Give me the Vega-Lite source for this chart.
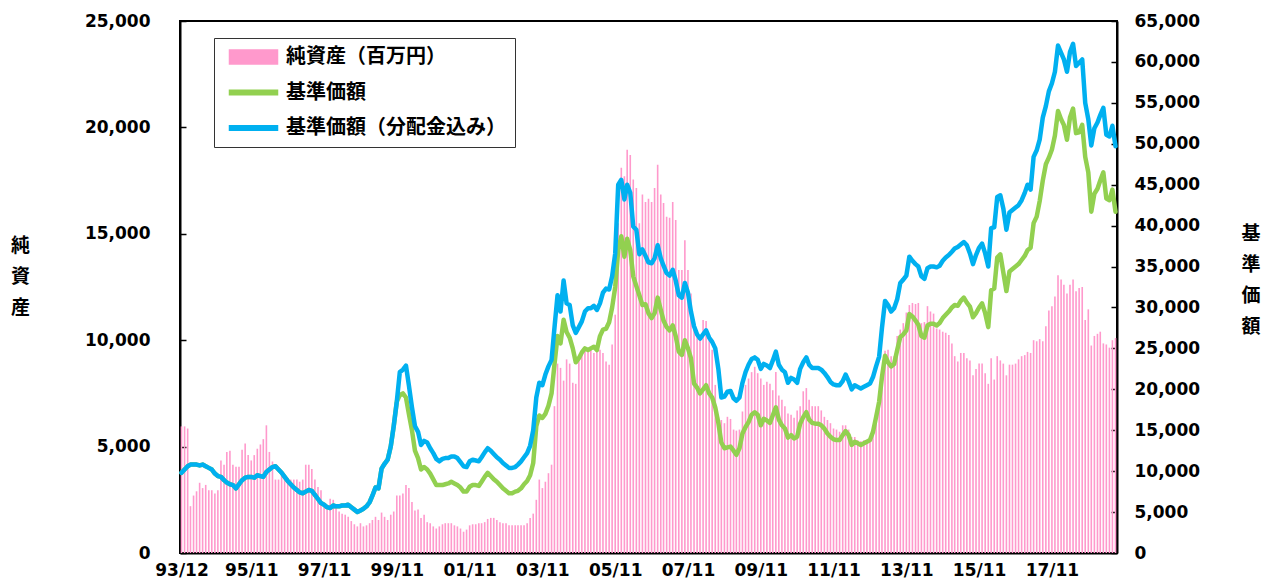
{
"$schema":"https://vega.github.io/schema/vega-lite/v6.json",
"width":937,"height":532,
"autosize":{"type":"none"},
"padding":{"left":180,"top":21,"right":154,"bottom":31},
"background":"white",
"config":{"view":{"stroke":"#000","strokeWidth":2}},
"data":{"values":[
{"date":"1993-12-01","nav":5950,"price":9800,"adj":9800},
{"date":"1994-01-01","nav":5950,"price":10200,"adj":10200},
{"date":"1994-02-01","nav":5850,"price":10600,"adj":10600},
{"date":"1994-03-01","nav":2200,"price":10800,"adj":10800},
{"date":"1994-04-01","nav":2700,"price":10800,"adj":10800},
{"date":"1994-05-01","nav":2900,"price":10800,"adj":10800},
{"date":"1994-06-01","nav":3300,"price":10700,"adj":10700},
{"date":"1994-07-01","nav":3050,"price":10800,"adj":10800},
{"date":"1994-08-01","nav":3200,"price":10600,"adj":10600},
{"date":"1994-09-01","nav":2950,"price":10400,"adj":10400},
{"date":"1994-10-01","nav":2950,"price":10200,"adj":10200},
{"date":"1994-11-01","nav":2800,"price":9700,"adj":9700},
{"date":"1994-12-01","nav":2950,"price":9400,"adj":9400},
{"date":"1995-01-01","nav":4350,"price":9300,"adj":9300},
{"date":"1995-02-01","nav":4150,"price":8900,"adj":8900},
{"date":"1995-03-01","nav":4750,"price":8600,"adj":8600},
{"date":"1995-04-01","nav":4800,"price":8400,"adj":8400},
{"date":"1995-05-01","nav":4150,"price":8300,"adj":8300},
{"date":"1995-06-01","nav":4050,"price":7900,"adj":7900},
{"date":"1995-07-01","nav":4050,"price":8400,"adj":8400},
{"date":"1995-08-01","nav":4850,"price":8900,"adj":8900},
{"date":"1995-09-01","nav":5150,"price":9200,"adj":9200},
{"date":"1995-10-01","nav":4600,"price":9300,"adj":9300},
{"date":"1995-11-01","nav":4350,"price":9300,"adj":9300},
{"date":"1995-12-01","nav":4600,"price":9200,"adj":9200},
{"date":"1996-01-01","nav":4900,"price":9500,"adj":9500},
{"date":"1996-02-01","nav":5100,"price":9400,"adj":9400},
{"date":"1996-03-01","nav":5350,"price":9300,"adj":9300},
{"date":"1996-04-01","nav":6000,"price":9900,"adj":9900},
{"date":"1996-05-01","nav":4750,"price":10200,"adj":10200},
{"date":"1996-06-01","nav":4300,"price":10500,"adj":10500},
{"date":"1996-07-01","nav":3450,"price":10600,"adj":10600},
{"date":"1996-08-01","nav":3450,"price":10200,"adj":10200},
{"date":"1996-09-01","nav":3750,"price":9800,"adj":9800},
{"date":"1996-10-01","nav":3500,"price":9300,"adj":9300},
{"date":"1996-11-01","nav":3500,"price":8800,"adj":8800},
{"date":"1996-12-01","nav":3450,"price":8400,"adj":8400},
{"date":"1997-01-01","nav":3450,"price":8000,"adj":8000},
{"date":"1997-02-01","nav":3450,"price":7700,"adj":7700},
{"date":"1997-03-01","nav":3350,"price":7400,"adj":7400},
{"date":"1997-04-01","nav":3450,"price":7300,"adj":7300},
{"date":"1997-05-01","nav":4150,"price":7500,"adj":7500},
{"date":"1997-06-01","nav":4150,"price":7700,"adj":7700},
{"date":"1997-07-01","nav":3950,"price":7600,"adj":7600},
{"date":"1997-08-01","nav":3450,"price":7100,"adj":7100},
{"date":"1997-09-01","nav":3100,"price":6600,"adj":6600},
{"date":"1997-10-01","nav":2950,"price":6100,"adj":6100},
{"date":"1997-11-01","nav":2350,"price":5900,"adj":5900},
{"date":"1997-12-01","nav":2100,"price":5600,"adj":5600},
{"date":"1998-01-01","nav":2550,"price":5500,"adj":5500},
{"date":"1998-02-01","nav":2500,"price":5800,"adj":5800},
{"date":"1998-03-01","nav":2200,"price":5700,"adj":5700},
{"date":"1998-04-01","nav":1950,"price":5700,"adj":5700},
{"date":"1998-05-01","nav":1850,"price":5800,"adj":5800},
{"date":"1998-06-01","nav":1800,"price":5800,"adj":5800},
{"date":"1998-07-01","nav":1700,"price":5900,"adj":5900},
{"date":"1998-08-01","nav":1500,"price":5600,"adj":5600},
{"date":"1998-09-01","nav":1350,"price":5300,"adj":5300},
{"date":"1998-10-01","nav":1250,"price":5000,"adj":5000},
{"date":"1998-11-01","nav":1400,"price":5200,"adj":5200},
{"date":"1998-12-01","nav":1250,"price":5400,"adj":5400},
{"date":"1999-01-01","nav":1300,"price":5700,"adj":5700},
{"date":"1999-02-01","nav":1400,"price":6200,"adj":6200},
{"date":"1999-03-01","nav":1550,"price":7000,"adj":7000},
{"date":"1999-04-01","nav":1700,"price":8000,"adj":8000},
{"date":"1999-05-01","nav":1550,"price":7900,"adj":7900},
{"date":"1999-06-01","nav":1900,"price":10300,"adj":10300},
{"date":"1999-07-01","nav":1700,"price":10900,"adj":10900},
{"date":"1999-08-01","nav":1550,"price":11400,"adj":11400},
{"date":"1999-09-01","nav":1800,"price":13000,"adj":13000},
{"date":"1999-10-01","nav":1950,"price":15500,"adj":15500},
{"date":"1999-11-01","nav":2700,"price":18500,"adj":18500},
{"date":"1999-12-01","nav":2700,"price":19300,"adj":22100},
{"date":"2000-01-01","nav":2800,"price":19500,"adj":22400},
{"date":"2000-02-01","nav":3200,"price":19000,"adj":22900},
{"date":"2000-03-01","nav":3050,"price":17000,"adj":20500},
{"date":"2000-04-01","nav":2400,"price":15000,"adj":17800},
{"date":"2000-05-01","nav":2000,"price":12500,"adj":15500},
{"date":"2000-06-01","nav":2050,"price":11600,"adj":14800},
{"date":"2000-07-01","nav":1650,"price":10200,"adj":13200},
{"date":"2000-08-01","nav":1800,"price":10500,"adj":13700},
{"date":"2000-09-01","nav":1450,"price":10200,"adj":13500},
{"date":"2000-10-01","nav":1400,"price":9700,"adj":12800},
{"date":"2000-11-01","nav":1250,"price":9000,"adj":12200},
{"date":"2000-12-01","nav":1150,"price":8300,"adj":11500},
{"date":"2001-01-01","nav":1250,"price":8300,"adj":11200},
{"date":"2001-02-01","nav":1350,"price":8300,"adj":11500},
{"date":"2001-03-01","nav":1400,"price":8400,"adj":11600},
{"date":"2001-04-01","nav":1400,"price":8500,"adj":11600},
{"date":"2001-05-01","nav":1400,"price":8700,"adj":11800},
{"date":"2001-06-01","nav":1300,"price":8500,"adj":11800},
{"date":"2001-07-01","nav":1250,"price":8300,"adj":11600},
{"date":"2001-08-01","nav":1150,"price":8000,"adj":11100},
{"date":"2001-09-01","nav":1000,"price":7500,"adj":10600},
{"date":"2001-10-01","nav":1100,"price":7500,"adj":10500},
{"date":"2001-11-01","nav":1300,"price":8100,"adj":11200},
{"date":"2001-12-01","nav":1350,"price":8300,"adj":11400},
{"date":"2002-01-01","nav":1350,"price":8300,"adj":11300},
{"date":"2002-02-01","nav":1400,"price":8200,"adj":11200},
{"date":"2002-03-01","nav":1400,"price":8700,"adj":11700},
{"date":"2002-04-01","nav":1450,"price":9300,"adj":12300},
{"date":"2002-05-01","nav":1600,"price":9800,"adj":12800},
{"date":"2002-06-01","nav":1650,"price":9400,"adj":12500},
{"date":"2002-07-01","nav":1650,"price":9000,"adj":12100},
{"date":"2002-08-01","nav":1550,"price":8700,"adj":11700},
{"date":"2002-09-01","nav":1450,"price":8300,"adj":11400},
{"date":"2002-10-01","nav":1400,"price":7900,"adj":11000},
{"date":"2002-11-01","nav":1400,"price":7600,"adj":10700},
{"date":"2002-12-01","nav":1300,"price":7300,"adj":10400},
{"date":"2003-01-01","nav":1300,"price":7300,"adj":10400},
{"date":"2003-02-01","nav":1300,"price":7500,"adj":10500},
{"date":"2003-03-01","nav":1300,"price":7600,"adj":10800},
{"date":"2003-04-01","nav":1300,"price":7900,"adj":11200},
{"date":"2003-05-01","nav":1300,"price":8400,"adj":11700},
{"date":"2003-06-01","nav":1400,"price":8800,"adj":12200},
{"date":"2003-07-01","nav":1650,"price":9500,"adj":13100},
{"date":"2003-08-01","nav":1850,"price":11000,"adj":15000},
{"date":"2003-09-01","nav":2500,"price":15500,"adj":19000},
{"date":"2003-10-01","nav":3450,"price":16800,"adj":20800},
{"date":"2003-11-01","nav":3050,"price":16500,"adj":20500},
{"date":"2003-12-01","nav":3350,"price":17000,"adj":21800},
{"date":"2004-01-01","nav":3750,"price":18000,"adj":22800},
{"date":"2004-02-01","nav":4150,"price":19500,"adj":23600},
{"date":"2004-03-01","nav":6900,"price":23000,"adj":27500},
{"date":"2004-04-01","nav":8900,"price":26500,"adj":31500},
{"date":"2004-05-01","nav":8700,"price":25600,"adj":29500},
{"date":"2004-06-01","nav":8100,"price":28500,"adj":33300},
{"date":"2004-07-01","nav":9100,"price":27000,"adj":30500},
{"date":"2004-08-01","nav":8900,"price":26300,"adj":30300},
{"date":"2004-09-01","nav":8000,"price":25000,"adj":27800},
{"date":"2004-10-01","nav":7950,"price":23300,"adj":26900},
{"date":"2004-11-01","nav":9200,"price":23800,"adj":27600},
{"date":"2004-12-01","nav":9400,"price":24500,"adj":28300},
{"date":"2005-01-01","nav":9500,"price":25000,"adj":29500},
{"date":"2005-02-01","nav":9600,"price":24800,"adj":29900},
{"date":"2005-03-01","nav":9600,"price":25000,"adj":29900},
{"date":"2005-04-01","nav":9400,"price":25200,"adj":30200},
{"date":"2005-05-01","nav":9500,"price":24800,"adj":29700},
{"date":"2005-06-01","nav":9550,"price":26500,"adj":30500},
{"date":"2005-07-01","nav":9400,"price":27300,"adj":31800},
{"date":"2005-08-01","nav":9000,"price":27400,"adj":32300},
{"date":"2005-09-01","nav":8850,"price":28200,"adj":32200},
{"date":"2005-10-01","nav":9800,"price":30000,"adj":33800},
{"date":"2005-11-01","nav":11200,"price":32500,"adj":36600},
{"date":"2005-12-01","nav":15500,"price":37000,"adj":45000},
{"date":"2006-01-01","nav":18100,"price":38700,"adj":45600},
{"date":"2006-02-01","nav":17700,"price":36200,"adj":43200},
{"date":"2006-03-01","nav":18950,"price":38400,"adj":45000},
{"date":"2006-04-01","nav":18700,"price":37000,"adj":44000},
{"date":"2006-05-01","nav":17550,"price":33800,"adj":39900},
{"date":"2006-06-01","nav":17150,"price":32600,"adj":39500},
{"date":"2006-07-01","nav":15500,"price":31500,"adj":36500},
{"date":"2006-08-01","nav":16850,"price":30300,"adj":37100},
{"date":"2006-09-01","nav":16500,"price":30400,"adj":36300},
{"date":"2006-10-01","nav":16650,"price":29300,"adj":35500},
{"date":"2006-11-01","nav":16500,"price":28700,"adj":35400},
{"date":"2006-12-01","nav":17150,"price":29300,"adj":36000},
{"date":"2007-01-01","nav":18250,"price":31200,"adj":37600},
{"date":"2007-02-01","nav":16850,"price":29700,"adj":36000},
{"date":"2007-03-01","nav":16450,"price":28400,"adj":35100},
{"date":"2007-04-01","nav":15800,"price":27600,"adj":34200},
{"date":"2007-05-01","nav":15750,"price":27200,"adj":33900},
{"date":"2007-06-01","nav":16500,"price":27800,"adj":34600},
{"date":"2007-07-01","nav":15650,"price":26500,"adj":33300},
{"date":"2007-08-01","nav":13300,"price":24600,"adj":31500},
{"date":"2007-09-01","nav":13300,"price":24200,"adj":31200},
{"date":"2007-10-01","nav":14700,"price":26000,"adj":33000},
{"date":"2007-11-01","nav":13300,"price":25000,"adj":31800},
{"date":"2007-12-01","nav":12200,"price":23800,"adj":29500},
{"date":"2008-01-01","nav":10500,"price":20700,"adj":27700},
{"date":"2008-02-01","nav":10300,"price":20200,"adj":26700},
{"date":"2008-03-01","nav":10250,"price":19500,"adj":26200},
{"date":"2008-04-01","nav":10950,"price":20000,"adj":26700},
{"date":"2008-05-01","nav":10900,"price":20500,"adj":27200},
{"date":"2008-06-01","nav":10150,"price":19500,"adj":26300},
{"date":"2008-07-01","nav":9550,"price":19000,"adj":25800},
{"date":"2008-08-01","nav":7900,"price":17800,"adj":25000},
{"date":"2008-09-01","nav":6400,"price":15900,"adj":22500},
{"date":"2008-10-01","nav":6250,"price":13500,"adj":19000},
{"date":"2008-11-01","nav":6100,"price":12800,"adj":19100},
{"date":"2008-12-01","nav":6400,"price":12900,"adj":19700},
{"date":"2009-01-01","nav":6300,"price":13000,"adj":19800},
{"date":"2009-02-01","nav":5800,"price":12500,"adj":18900},
{"date":"2009-03-01","nav":5750,"price":12000,"adj":18600},
{"date":"2009-04-01","nav":5800,"price":12800,"adj":19000},
{"date":"2009-05-01","nav":6650,"price":14600,"adj":20800},
{"date":"2009-06-01","nav":7900,"price":15400,"adj":22100},
{"date":"2009-07-01","nav":8200,"price":16000,"adj":23000},
{"date":"2009-08-01","nav":8500,"price":16900,"adj":23700},
{"date":"2009-09-01","nav":8750,"price":17200,"adj":23900},
{"date":"2009-10-01","nav":8450,"price":16900,"adj":23600},
{"date":"2009-11-01","nav":8200,"price":15600,"adj":22500},
{"date":"2009-12-01","nav":7900,"price":16400,"adj":23100},
{"date":"2010-01-01","nav":8050,"price":16200,"adj":22900},
{"date":"2010-02-01","nav":7950,"price":15900,"adj":22600},
{"date":"2010-03-01","nav":7650,"price":16800,"adj":23500},
{"date":"2010-04-01","nav":8500,"price":17800,"adj":24600},
{"date":"2010-05-01","nav":7400,"price":16300,"adj":23000},
{"date":"2010-06-01","nav":7200,"price":15600,"adj":22400},
{"date":"2010-07-01","nav":6900,"price":15200,"adj":22100},
{"date":"2010-08-01","nav":6550,"price":14100,"adj":20800},
{"date":"2010-09-01","nav":6500,"price":14400,"adj":21400},
{"date":"2010-10-01","nav":6350,"price":14000,"adj":21200},
{"date":"2010-11-01","nav":6700,"price":14200,"adj":20800},
{"date":"2010-12-01","nav":6900,"price":15800,"adj":22500},
{"date":"2011-01-01","nav":7600,"price":16600,"adj":23300},
{"date":"2011-02-01","nav":7750,"price":17200,"adj":23900},
{"date":"2011-03-01","nav":7200,"price":16300,"adj":23000},
{"date":"2011-04-01","nav":6900,"price":15900,"adj":22600},
{"date":"2011-05-01","nav":6900,"price":15800,"adj":22600},
{"date":"2011-06-01","nav":6900,"price":15800,"adj":22600},
{"date":"2011-07-01","nav":6700,"price":15600,"adj":22400},
{"date":"2011-08-01","nav":6400,"price":15200,"adj":22000},
{"date":"2011-09-01","nav":6250,"price":14600,"adj":21500},
{"date":"2011-10-01","nav":6100,"price":14200,"adj":20900},
{"date":"2011-11-01","nav":5850,"price":13900,"adj":20600},
{"date":"2011-12-01","nav":5800,"price":13800,"adj":20500},
{"date":"2012-01-01","nav":5700,"price":13800,"adj":20500},
{"date":"2012-02-01","nav":6000,"price":14400,"adj":21000},
{"date":"2012-03-01","nav":6000,"price":14900,"adj":21800},
{"date":"2012-04-01","nav":5800,"price":14400,"adj":21000},
{"date":"2012-05-01","nav":5450,"price":13200,"adj":20000},
{"date":"2012-06-01","nav":5450,"price":13600,"adj":20500},
{"date":"2012-07-01","nav":5300,"price":13400,"adj":20300},
{"date":"2012-08-01","nav":5250,"price":13200,"adj":20100},
{"date":"2012-09-01","nav":5300,"price":13400,"adj":20300},
{"date":"2012-10-01","nav":5300,"price":13600,"adj":20500},
{"date":"2012-11-01","nav":5450,"price":13800,"adj":20700},
{"date":"2012-12-01","nav":5950,"price":14800,"adj":21500},
{"date":"2013-01-01","nav":6400,"price":16600,"adj":22800},
{"date":"2013-02-01","nav":6900,"price":18500,"adj":24000},
{"date":"2013-03-01","nav":8300,"price":21500,"adj":27500},
{"date":"2013-04-01","nav":9500,"price":24100,"adj":30800},
{"date":"2013-05-01","nav":9550,"price":23300,"adj":30300},
{"date":"2013-06-01","nav":9250,"price":22800,"adj":29500},
{"date":"2013-07-01","nav":9250,"price":23100,"adj":29900},
{"date":"2013-08-01","nav":10200,"price":24800,"adj":31000},
{"date":"2013-09-01","nav":10500,"price":26400,"adj":33000},
{"date":"2013-10-01","nav":10800,"price":26700,"adj":33400},
{"date":"2013-11-01","nav":11300,"price":27200,"adj":33900},
{"date":"2013-12-01","nav":11650,"price":29200,"adj":36200},
{"date":"2014-01-01","nav":11750,"price":28900,"adj":35700},
{"date":"2014-02-01","nav":11700,"price":28400,"adj":35300},
{"date":"2014-03-01","nav":11750,"price":27900,"adj":35000},
{"date":"2014-04-01","nav":10800,"price":26500,"adj":33800},
{"date":"2014-05-01","nav":10850,"price":26300,"adj":33500},
{"date":"2014-06-01","nav":11600,"price":27800,"adj":34800},
{"date":"2014-07-01","nav":11350,"price":28000,"adj":35000},
{"date":"2014-08-01","nav":11250,"price":28000,"adj":35000},
{"date":"2014-09-01","nav":10550,"price":27800,"adj":34900},
{"date":"2014-10-01","nav":10500,"price":28100,"adj":35100},
{"date":"2014-11-01","nav":10400,"price":28700,"adj":35700},
{"date":"2014-12-01","nav":10350,"price":29100,"adj":36100},
{"date":"2015-01-01","nav":10250,"price":29500,"adj":36400},
{"date":"2015-02-01","nav":9850,"price":30000,"adj":36800},
{"date":"2015-03-01","nav":9250,"price":30300,"adj":37200},
{"date":"2015-04-01","nav":9000,"price":30200,"adj":37400},
{"date":"2015-05-01","nav":9400,"price":30800,"adj":37700},
{"date":"2015-06-01","nav":9400,"price":31200,"adj":38000},
{"date":"2015-07-01","nav":9150,"price":30600,"adj":37600},
{"date":"2015-08-01","nav":9050,"price":30100,"adj":36600},
{"date":"2015-09-01","nav":8350,"price":28800,"adj":35300},
{"date":"2015-10-01","nav":8650,"price":29300,"adj":36400},
{"date":"2015-11-01","nav":8900,"price":30000,"adj":37300},
{"date":"2015-12-01","nav":8900,"price":30500,"adj":37800},
{"date":"2016-01-01","nav":8450,"price":29300,"adj":36600},
{"date":"2016-02-01","nav":7950,"price":27600,"adj":35000},
{"date":"2016-03-01","nav":9150,"price":32100,"adj":39700},
{"date":"2016-04-01","nav":8150,"price":32300,"adj":39800},
{"date":"2016-05-01","nav":9250,"price":36100,"adj":43500},
{"date":"2016-06-01","nav":9050,"price":36500,"adj":43700},
{"date":"2016-07-01","nav":8900,"price":34300,"adj":42100},
{"date":"2016-08-01","nav":8350,"price":32000,"adj":39500},
{"date":"2016-09-01","nav":8850,"price":34400,"adj":41600},
{"date":"2016-10-01","nav":8850,"price":34700,"adj":41900},
{"date":"2016-11-01","nav":8900,"price":35000,"adj":42200},
{"date":"2016-12-01","nav":9100,"price":35300,"adj":42500},
{"date":"2017-01-01","nav":9250,"price":35800,"adj":43100},
{"date":"2017-02-01","nav":9300,"price":36300,"adj":44000},
{"date":"2017-03-01","nav":9450,"price":37000,"adj":45000},
{"date":"2017-04-01","nav":9400,"price":37300,"adj":44400},
{"date":"2017-05-01","nav":10000,"price":40300,"adj":48400},
{"date":"2017-06-01","nav":9950,"price":41100,"adj":49200},
{"date":"2017-07-01","nav":10050,"price":43000,"adj":50500},
{"date":"2017-08-01","nav":9950,"price":45500,"adj":53200},
{"date":"2017-09-01","nav":10650,"price":47500,"adj":54600},
{"date":"2017-10-01","nav":11400,"price":48300,"adj":56400},
{"date":"2017-11-01","nav":11600,"price":49300,"adj":57400},
{"date":"2017-12-01","nav":12050,"price":51000,"adj":58800},
{"date":"2018-01-01","nav":13050,"price":54000,"adj":62000},
{"date":"2018-02-01","nav":12850,"price":53000,"adj":61100},
{"date":"2018-03-01","nav":12600,"price":52300,"adj":60300},
{"date":"2018-04-01","nav":12200,"price":50500,"adj":58800},
{"date":"2018-05-01","nav":12600,"price":53200,"adj":61200},
{"date":"2018-06-01","nav":12850,"price":54300,"adj":62200},
{"date":"2018-07-01","nav":12300,"price":51300,"adj":59500},
{"date":"2018-08-01","nav":12450,"price":51400,"adj":59900},
{"date":"2018-09-01","nav":12500,"price":52300,"adj":60300},
{"date":"2018-10-01","nav":10950,"price":48400,"adj":55000},
{"date":"2018-11-01","nav":11450,"price":46500,"adj":53000},
{"date":"2018-12-01","nav":9750,"price":41700,"adj":49800},
{"date":"2019-01-01","nav":10200,"price":43900,"adj":51900},
{"date":"2019-02-01","nav":10300,"price":44500,"adj":52600},
{"date":"2019-03-01","nav":10400,"price":45500,"adj":53500},
{"date":"2019-04-01","nav":9850,"price":46500,"adj":54400},
{"date":"2019-05-01","nav":9800,"price":43300,"adj":51100},
{"date":"2019-06-01","nav":9650,"price":43100,"adj":50900},
{"date":"2019-07-01","nav":10000,"price":44400,"adj":52200},
{"date":"2019-08-01","nav":10100,"price":41700,"adj":49700}
]},
"encoding":{
 "x":{"field":"date","type":"temporal",
  "scale":{"domain":[{"year":1993,"month":11,"date":16,"utc":true},{"year":2019,"month":8,"date":16,"utc":true}],"nice":false,"padding":0},
  "axis":{"title":null,"grid":false,"ticks":false,"labelPadding":9,"labelFont":"DejaVu Sans","labelFontWeight":"bold","labelFontSize":17,"labelColor":"#000","domainColor":"#000","domainWidth":2,"labelOverlap":false,"labelFlush":false,
   "values":[{"year":1993,"month":12,"date":1,"utc":true},{"year":1995,"month":11,"date":1,"utc":true},{"year":1997,"month":11,"date":1,"utc":true},{"year":1999,"month":11,"date":1,"utc":true},{"year":2001,"month":11,"date":1,"utc":true},{"year":2003,"month":11,"date":1,"utc":true},{"year":2005,"month":11,"date":1,"utc":true},{"year":2007,"month":11,"date":1,"utc":true},{"year":2009,"month":11,"date":1,"utc":true},{"year":2011,"month":11,"date":1,"utc":true},{"year":2013,"month":11,"date":1,"utc":true},{"year":2015,"month":11,"date":1,"utc":true},{"year":2017,"month":11,"date":1,"utc":true}],
   "labelExpr":"utcFormat(datum.value, '%y/%m')"}}
},
"layer":[
 {"mark":{"type":"bar","width":1.6},
  "encoding":{
   "y":{"field":"nav","type":"quantitative","scale":{"domain":[0,25000],"nice":false},
    "axis":{"orient":"left","values":[0,5000,10000,15000,20000,25000],"format":",d","grid":false,"labelFont":"DejaVu Sans","labelFontWeight":"bold","labelFontSize":17,"labelColor":"#000","tickSize":-6,"tickColor":"#000","tickWidth":1.5,"domainColor":"#000","domainWidth":2,"labelPadding":36,
     "title":["純","資","産"],"titleAngle":0,"titleFont":"Noto Sans CJK JP","titleFontSize":19,"titleFontWeight":"bold","titleColor":"#000","titleX":-160,"titleY":224,"titleLineHeight":31,"titleAlign":"center","titleBaseline":"middle"}},
   "color":{"datum":"純資産（百万円）","type":"nominal",
    "scale":{"domain":["純資産（百万円）","基準価額","基準価額（分配金込み）"],"range":["#ff99cc","#92d050","#00b0f0"]},
    "legend":{"title":null,"orient":"none","legendX":34,"legendY":17,"direction":"vertical","padding":9,"strokeColor":"#333","fillColor":"#fff",
     "labelFont":"Noto Sans CJK JP","labelFontSize":20,"labelFontWeight":"bold","labelColor":"#000","labelLimit":400,
     "symbolSize":256,"symbolOffset":20.5,"labelOffset":22.5,"rowPadding":15.5,
     "encode":{"symbols":{"update":{
       "shape":{"signal":"datum.value === '純資産（百万円）' ? 'M-3,-0.875H3V0.875H-3Z' : 'M-3,-0.28H3V0.28H-3Z'"},
       "fill":{"signal":"scale('color', datum.value)"},
       "stroke":{"value":"transparent"}}}}}}
  }},
 {"layer":[
   {"mark":{"type":"line","strokeWidth":4.5,"strokeJoin":"round","strokeCap":"round"},
    "encoding":{
     "y":{"field":"price","type":"quantitative","scale":{"domain":[0,65000],"nice":false},
      "axis":{"orient":"right","values":[0,5000,10000,15000,20000,25000,30000,35000,40000,45000,50000,55000,60000,65000],"format":",d","grid":false,"labelFont":"DejaVu Sans","labelFontWeight":"bold","labelFontSize":17,"labelColor":"#000","tickSize":-6,"tickColor":"#000","tickWidth":1.5,"domainColor":"#000","domainWidth":2,"labelPadding":23,
       "title":["基","準","価","額"],"titleAngle":0,"titleFont":"Noto Sans CJK JP","titleFontSize":19,"titleFontWeight":"bold","titleColor":"#000","titleX":133.5,"titleY":212.5,"titleLineHeight":31,"titleAlign":"center","titleBaseline":"middle"}},
     "color":{"datum":"基準価額","type":"nominal"}}},
   {"mark":{"type":"line","strokeWidth":4.5,"strokeJoin":"round","strokeCap":"round"},
    "encoding":{
     "y":{"field":"adj","type":"quantitative","scale":{"domain":[0,65000],"nice":false},
      "axis":{"orient":"right","values":[0,5000,10000,15000,20000,25000,30000,35000,40000,45000,50000,55000,60000,65000],"format":",d","grid":false,"labelFont":"DejaVu Sans","labelFontWeight":"bold","labelFontSize":17,"labelColor":"#000","tickSize":-6,"tickColor":"#000","tickWidth":1.5,"domainColor":"#000","domainWidth":2,"labelPadding":23,
       "title":["基","準","価","額"],"titleAngle":0,"titleFont":"Noto Sans CJK JP","titleFontSize":19,"titleFontWeight":"bold","titleColor":"#000","titleX":133.5,"titleY":212.5,"titleLineHeight":31,"titleAlign":"center","titleBaseline":"middle"}},
     "color":{"datum":"基準価額（分配金込み）","type":"nominal"}}}
 ]}
],
"resolve":{"scale":{"y":"independent"}}
}
